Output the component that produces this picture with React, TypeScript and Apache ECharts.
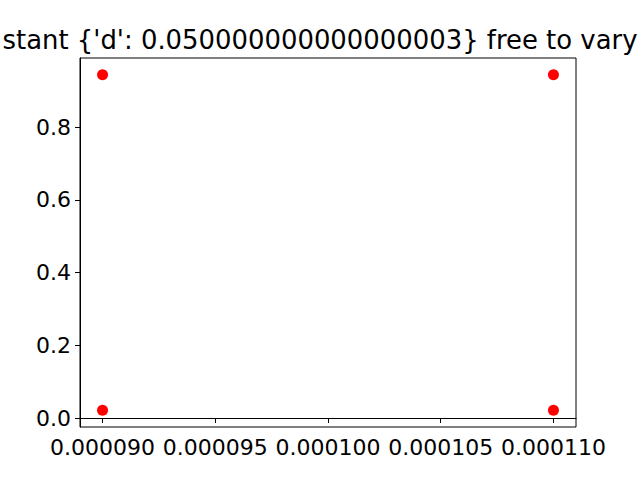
import React, { useEffect, useRef } from "react";
import * as echarts from "echarts";

const titleText = "stant {'d': 0.050000000000000003} free to vary";
const pointX = [0.00009, 0.00009, 0.00011, 0.00011];
const pointY = [0.0214, 0.9436, 0.0214, 0.9436];
const xTicks = [0.00009, 0.000095, 0.0001, 0.000105, 0.00011];
const yTicks = [0, 0.2, 0.4, 0.6, 0.8];

export default function App() {
  const ref = useRef<HTMLDivElement>(null);
  useEffect(() => {
    document.body.style.margin = "0";
    const chart = echarts.init(ref.current!, null, { renderer: "svg" });
    const font = "DejaVu Sans";
    chart.setOption({
      animation: false,
      backgroundColor: "#ffffff",
      textStyle: { fontFamily: font },
      graphic: [
        {
          type: "text",
          x: 320,
          y: 40,
          style: {
            text: titleText,
            fontSize: 25.9,
            fontFamily: font,
            fill: "#000",
            textAlign: "center",
            textVerticalAlign: "middle",
          },
        },
      ],
      grid: {
        left: 80,
        right: 64,
        top: 58,
        bottom: 53,
        show: true,
        borderColor: "#000",
        borderWidth: 1,
        backgroundColor: "transparent",
      },
      xAxis: {
        type: "value",
        min: 0.000089,
        max: 0.000111,
        splitLine: { show: false },
        axisLine: { show: true, lineStyle: { color: "#000", width: 1 } },
        axisTick: {
          show: true,
          length: 5,
          inside: false,
          customValues: xTicks,
          lineStyle: { color: "#000", width: 1 },
        },
        axisLabel: {
          customValues: xTicks,
          formatter: (v: number) => v.toFixed(6),
          fontSize: 22,
          fontFamily: font,
          color: "#000",
          margin: 9,
          showMinLabel: true,
          showMaxLabel: true,
        },
      },
      yAxis: {
        type: "value",
        min: -0.0247,
        max: 0.9897,
        splitLine: { show: false },
        axisLine: { show: true, lineStyle: { color: "#000", width: 1 } },
        axisTick: {
          show: true,
          length: 5,
          inside: false,
          customValues: yTicks,
          lineStyle: { color: "#000", width: 1 },
        },
        axisLabel: {
          customValues: yTicks,
          formatter: (v: number) => v.toFixed(1),
          fontSize: 22,
          fontFamily: font,
          color: "#000",
          margin: 9,
        },
      },
      series: [
        {
          type: "scatter",
          symbol: "circle",
          symbolSize: 11,
          itemStyle: { color: "#ff0000", opacity: 1 },
          data: pointX.map((x, i) => [x, pointY[i]]),
        },
      ],
    });
    return () => chart.dispose();
  }, []);
  return <div ref={ref} style={{ width: 640, height: 480 }} />;
}
